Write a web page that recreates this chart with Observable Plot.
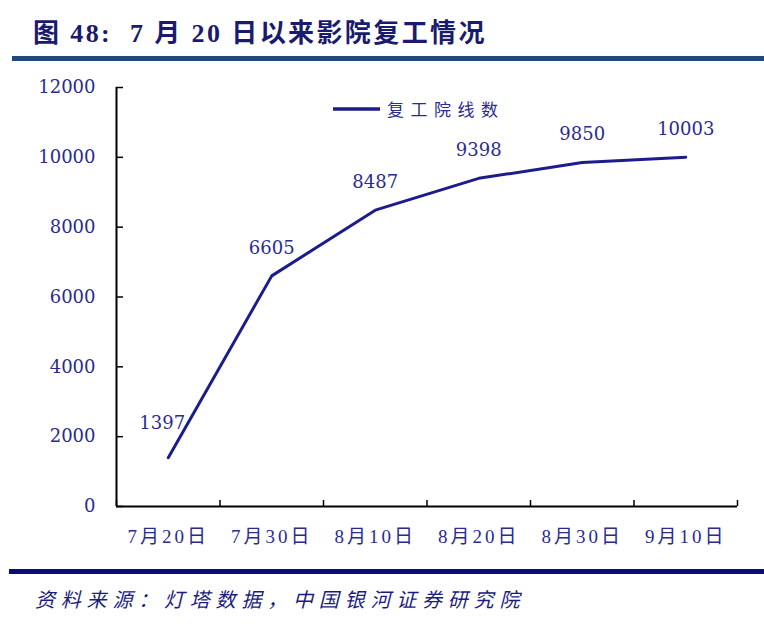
<!DOCTYPE html>
<html>
<head>
<meta charset="utf-8">
<script src="https://cdn.jsdelivr.net/npm/d3@7"></script>
<script src="https://cdn.jsdelivr.net/npm/@observablehq/plot@0.6"></script>
<style>
  html, body { margin: 0; padding: 0; background: #fff; }
  #page { position: relative; width: 764px; height: 628px; overflow: hidden; }
  #title {
    position: absolute; left: 33px; top: 12px;
    font: bold 26px "Liberation Serif", "Noto Sans CJK SC", serif;
    letter-spacing: 2.4px; color: #1a1a6e; white-space: nowrap;
  }
  #topRule { position: absolute; left: 12px; top: 56px; width: 752px; height: 5px; background: #1f497d; }
  #chart { position: absolute; left: 0; top: 70px; }
  #chart g[aria-label="x-axis tick label"] text { letter-spacing: 3px; }
  #legend { position: absolute; left: 333px; top: 96px; height: 28px; white-space: nowrap; }
  #legend svg { vertical-align: middle; }
  #legend span {
    font: 17px "Noto Sans CJK SC", sans-serif; letter-spacing: 6.5px; color: #2b2b8f;
    vertical-align: middle; margin-left: 6px;
  }
  #bottomRule { position: absolute; left: 9px; top: 569px; width: 755px; height: 5px; background: #0c0c78; }
  #caption {
    position: absolute; left: 35px; top: 584px;
    font: italic 20px "Noto Sans CJK SC", sans-serif; letter-spacing: 5.8px;
    color: #1c1c80; white-space: nowrap;
  }
</style>
</head>
<body>
<div id="page">
  <div id="title">图 48:&nbsp; 7 月 20 日以来影院复工情况</div>
  <div id="topRule"></div>
  <div id="chart"></div>
  <div id="legend"></div>
  <div id="bottomRule"></div>
  <div id="caption">资料来源：灯塔数据，中国银河证券研究院</div>
</div>
<script>
// Dates on the horizontal axis
const dates = ["7月20日", "7月30日", "8月10日", "8月20日", "8月30日", "9月10日"];
// Number of cinemas reopened
const cinemas = [1397, 6605, 8487, 9398, 9850, 10003];
// Vertical axis ticks
const yTicks = [0, 2000, 4000, 6000, 8000, 10000, 12000];
const seriesName = "复工院线数";

const lineColor = "#1c1c8c";
const textColor = "#2b2b8f";
const numFont = '"DejaVu Serif", "Liberation Serif", serif';

const rows = dates.map((d, i) => ({i, date: d, value: cinemas[i]}));
const idx = dates.map((d, i) => i);
// category boundaries for the x-axis tick marks
const bounds = [-0.5, ...idx.map(i => i + 0.5)];

const width = 764, height = 490;
const mL = 116, mR = 27, mT = 17, mB = 54;
const innerW = width - mL - mR, innerH = height - mT - mB;

const chart = Plot.plot({
  width, height,
  marginLeft: mL, marginRight: mR, marginTop: mT, marginBottom: mB,
  style: {fontFamily: '"Liberation Serif", "Noto Sans CJK SC", serif', background: "#fff"},
  x: {type: "linear", domain: [-0.5, dates.length - 0.5]},
  y: {domain: [0, 12000]},
  marks: [
    // axis labels
    Plot.axisY(yTicks, {
      anchor: "left", tickSize: 0, tickPadding: 21, fontSize: 18, color: textColor,
      fontFamily: numFont, tickFormat: d => String(d), label: null
    }),
    Plot.axisX(idx, {
      anchor: "bottom", tickSize: 0, tickPadding: 23, fontSize: 19, color: textColor,
      fontFamily: '"Liberation Serif", "Noto Sans CJK SC", serif',
      tickFormat: i => dates[i], label: null
    }),
    // inward tick marks
    Plot.tickY(yTicks, {y: d => d, stroke: "#000", strokeWidth: 1.5, insetRight: innerW - 7}),
    Plot.tickX(bounds, {x: d => d, stroke: "#000", strokeWidth: 1.5, insetTop: innerH - 6}),
    // axis lines
    Plot.ruleX([-0.5], {stroke: "#000", strokeWidth: 2}),
    Plot.ruleY([0], {stroke: "#000", strokeWidth: 2}),
    // series
    Plot.line(rows, {x: "i", y: "value", stroke: lineColor, strokeWidth: 3}),
    // value labels
    Plot.text(rows.slice(1), {
      x: "i", y: "value", text: d => String(d.value), dy: -28,
      fontSize: 18, fontFamily: numFont, fill: textColor
    }),
    Plot.text(rows.slice(0, 1), {
      x: "i", y: "value", text: d => String(d.value), dy: -34, dx: -6,
      fontSize: 18, fontFamily: numFont, fill: textColor
    })
  ]
});
document.getElementById("chart").appendChild(chart);

// legend
const legend = document.getElementById("legend");
legend.innerHTML =
  `<svg width="48" height="8"><line x1="0" y1="4" x2="47" y2="4" stroke="${lineColor}" stroke-width="3.5"/></svg>` +
  `<span>${seriesName}</span>`;
</script>
</body>
</html>
